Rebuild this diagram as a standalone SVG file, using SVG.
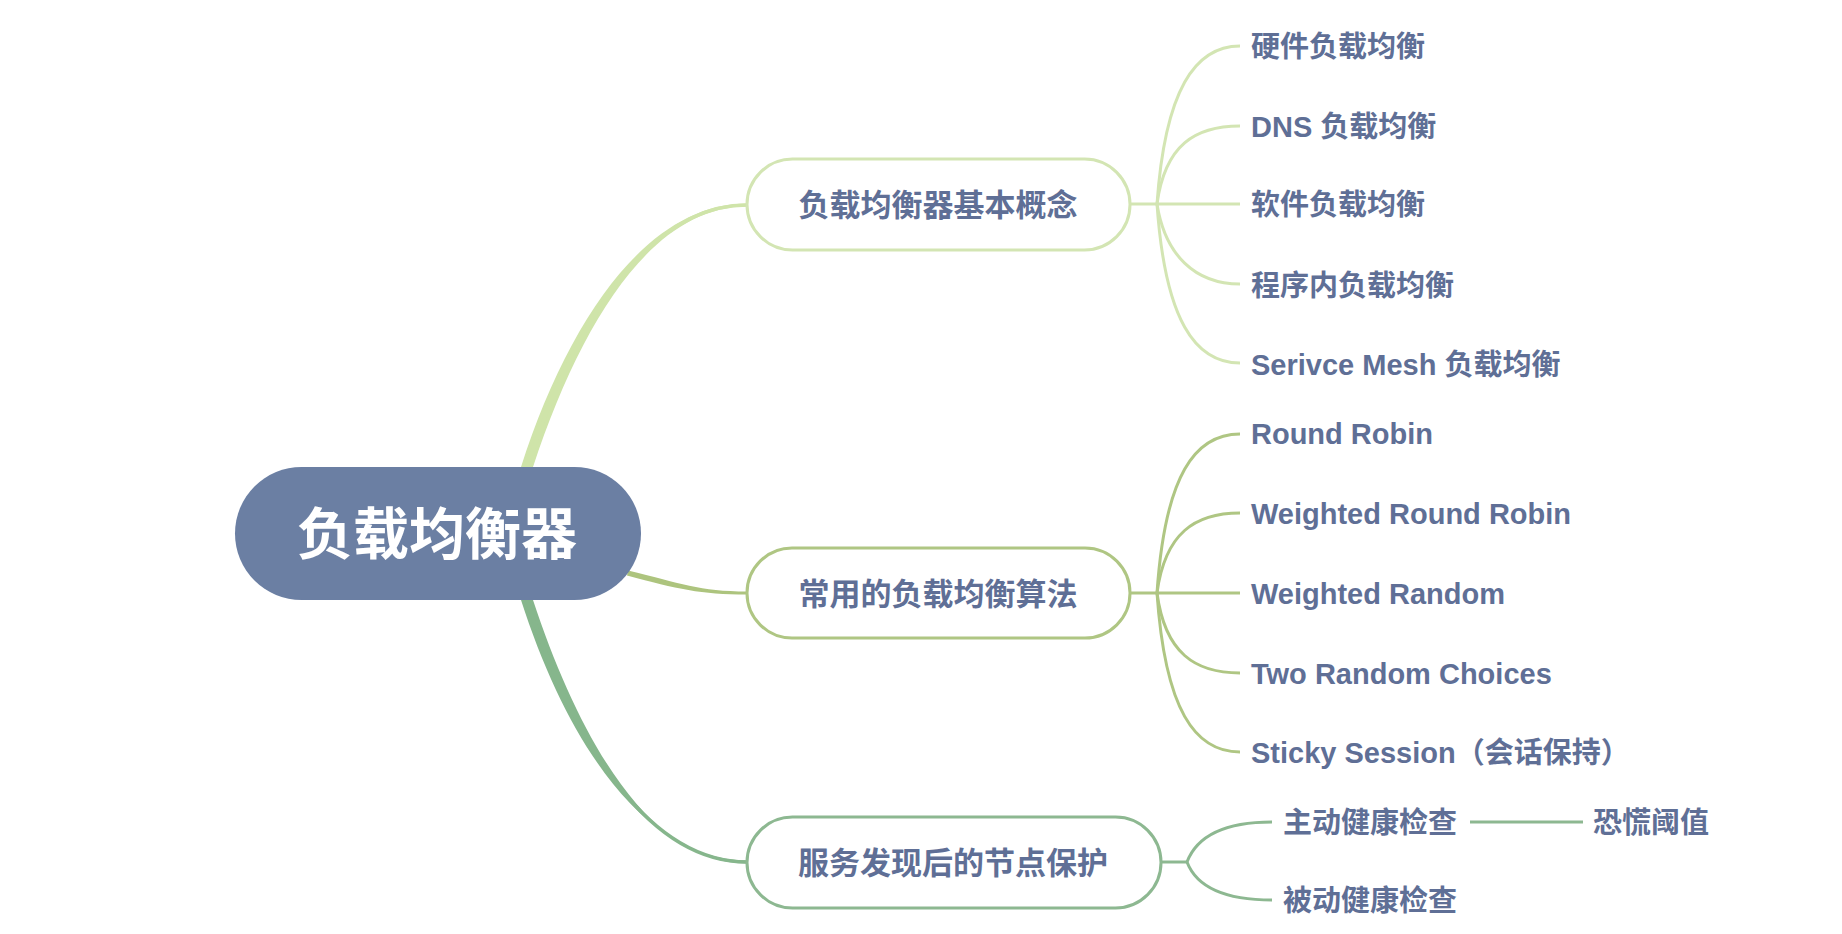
<svg xmlns="http://www.w3.org/2000/svg" width="1842" height="934" viewBox="0 0 1842 934">
<style>
.t{font-family:"Liberation Sans","Noto Sans CJK SC",sans-serif;font-weight:bold;fill:#5f6f96;dominant-baseline:central}
.leaf{font-size:29px}
.br{font-size:31px;text-anchor:middle}
.c1{fill:none;stroke:#d3e5b3;stroke-width:3}
.c2{fill:none;stroke:#afc683;stroke-width:3}
.c3{fill:none;stroke:#8db891;stroke-width:3}
.n{fill:#fff;stroke-width:3}
</style>
<rect width="1842" height="934" fill="#fff"/>
<g id="connectors">
  <path d="M521,467 C569,318 648,203.5 747,203.5 L747,206.5 C652,206.5 581,322 533,467 Z" fill="#cfe4a9"/>
  <path d="M527,467 C575,320 650,205 747,205" fill="none" stroke="#cfe4a9" stroke-width="3.5"/>
  <path d="M628,570.5 C680,583 700,591.5 747,591.5 L747,594.5 C700,594.5 678,589 627,575.5 Z" fill="#adc47e"/>
  <path d="M521,600 C569,749 648,860.5 747,860.5 L747,863.5 C652,863.5 581,745 533,600 Z" fill="#86b68c"/>
  <path d="M527,600 C575,747 650,862 747,862" fill="none" stroke="#86b68c" stroke-width="3.5"/>
  <path class="c1" d="M1129,204 L1157,204 L1240,204"/>
  <path class="c1" d="M1157,204 C1165,90 1195,46 1240,46"/>
  <path class="c1" d="M1157,204 C1165,145 1195,126 1240,126"/>
  <path class="c1" d="M1157,204 C1165,255 1195,284 1240,284"/>
  <path class="c1" d="M1157,204 C1165,320 1195,363 1240,363"/>
  <path class="c2" d="M1129,593 L1157,593 L1240,593"/>
  <path class="c2" d="M1157,593 C1165,475 1195,434 1240,434"/>
  <path class="c2" d="M1157,593 C1165,533 1195,513 1240,513"/>
  <path class="c2" d="M1157,593 C1165,653 1195,673 1240,673"/>
  <path class="c2" d="M1157,593 C1165,710 1195,752 1240,752"/>
  <path class="c3" d="M1161,862 L1187,862"/>
  <path class="c3" d="M1187,862 C1197,836 1225,822 1272,822"/>
  <path class="c3" d="M1187,862 C1197,888 1225,900 1272,900"/>
  <path class="c3" d="M1470,822 L1583,822"/>
</g>
<g id="root">
  <rect x="235" y="467" width="406" height="133" rx="66.5" fill="#6b7fa3"/>
  <text class="t" x="437" y="534" font-size="56" text-anchor="middle" style="fill:#fff">负载均衡器</text>
</g>
<g id="b1">
  <rect class="n" x="747" y="159" width="383" height="91" rx="45.5" stroke="#d3e5b3"/>
  <text class="t br" x="938" y="205">负载均衡器基本概念</text>
</g>
<g id="b2">
  <rect class="n" x="747" y="548" width="383" height="90" rx="45" stroke="#afc683"/>
  <text class="t br" x="938" y="594">常用的负载均衡算法</text>
</g>
<g id="b3">
  <rect class="n" x="747" y="817" width="414" height="91" rx="45.5" stroke="#8db891"/>
  <text class="t br" x="953" y="863">服务发现后的节点保护</text>
</g>
<g id="l1"><text class="t leaf" x="1251" y="47">硬件负载均衡</text></g>
<g id="l2"><text class="t leaf" x="1251" y="127">DNS 负载均衡</text></g>
<g id="l3"><text class="t leaf" x="1251" y="205">软件负载均衡</text></g>
<g id="l4"><text class="t leaf" x="1251" y="286">程序内负载均衡</text></g>
<g id="l5"><text class="t leaf" x="1251" y="365">Serivce Mesh 负载均衡</text></g>
<g id="l6"><text class="t leaf" x="1251" y="434">Round Robin</text></g>
<g id="l7"><text class="t leaf" x="1251" y="514">Weighted Round Robin</text></g>
<g id="l8"><text class="t leaf" x="1251" y="594">Weighted Random</text></g>
<g id="l9"><text class="t leaf" x="1251" y="674">Two Random Choices</text></g>
<g id="l10"><text class="t leaf" x="1251" y="753">Sticky Session（会话保持）</text></g>
<g id="l11"><text class="t leaf" x="1283" y="823">主动健康检查</text></g>
<g id="l12"><text class="t leaf" x="1283" y="901">被动健康检查</text></g>
<g id="l13"><text class="t leaf" x="1593" y="823">恐慌阈值</text></g>
</svg>
